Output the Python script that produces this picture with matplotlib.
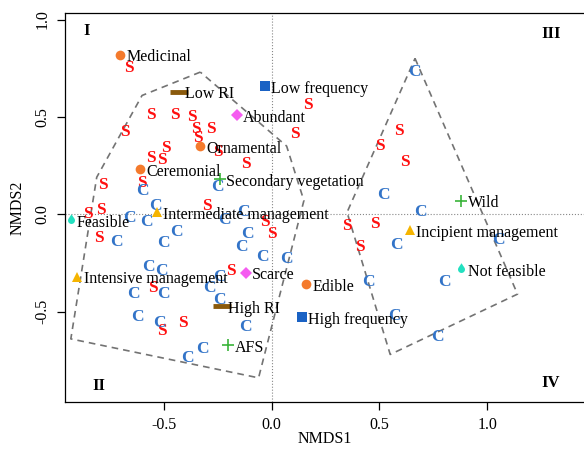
"""NMDS ordination of species uses / management categories (S vs C groups)."""

import matplotlib

matplotlib.use("Agg")

import matplotlib.pyplot as plt
import numpy as np
from matplotlib.path import Path

plt.rcParams["font.family"] = ["Liberation Serif", "DejaVu Serif"]
plt.rcParams["axes.unicode_minus"] = False

# S sites (NMDS1, NMDS2)
s_x = [-0.66, -0.56, -0.45, -0.37, -0.68, -0.35, -0.28, -0.34, -0.49, -0.25,
       -0.56, -0.51, -0.12, -0.60, -0.78, -0.79, -0.85, -0.30, -0.03, 0.00,
       -0.80, -0.19, -0.55, -0.51, -0.41, 0.17, 0.11, 0.59, 0.50, 0.62,
       0.35, 0.48, 0.41]
s_y = [0.75, 0.51, 0.51, 0.50, 0.42, 0.44, 0.44, 0.39, 0.34, 0.32,
       0.29, 0.28, 0.26, 0.16, 0.15, 0.02, 0.00, 0.04, -0.04, -0.10,
       -0.12, -0.29, -0.38, -0.60, -0.56, 0.56, 0.41, 0.43, 0.35, 0.27,
       -0.06, -0.05, -0.17]

# C sites
c_x = [-0.25, -0.60, -0.54, -0.13, -0.66, -0.58, -0.22, -0.72, -0.44, -0.50,
       -0.11, -0.14, -0.04, 0.07, -0.57, -0.51, -0.24, -0.29, -0.64, -0.50,
       -0.24, -0.62, -0.52, -0.12, -0.32, -0.39, 0.66, 0.52, 0.69, 0.58,
       1.05, 0.45, 0.80, 0.57, 0.77]
c_y = [0.14, 0.12, 0.04, 0.01, -0.02, -0.04, -0.03, -0.14, -0.09, -0.15,
       -0.10, -0.17, -0.22, -0.23, -0.27, -0.29, -0.32, -0.38, -0.41, -0.41,
       -0.44, -0.53, -0.56, -0.58, -0.69, -0.74, 0.73, 0.10, 0.01, -0.16,
       -0.13, -0.35, -0.35, -0.52, -0.63]

# fitted variables
var_names = ["Medicinal", "Ornamental", "Ceremonial", "Edible",
             "Low RI", "High RI", "Low frequency", "High frequency",
             "Abundant", "Scarce", "Secondary vegetation", "Wild", "AFS",
             "Intermediate management", "Intensive management", "Incipient management",
             "Feasible", "Not feasible"]
var_x = [-0.70, -0.33, -0.61, 0.16, -0.43, -0.23, -0.03, 0.14, -0.16, -0.12,
         -0.24, 0.88, -0.20, -0.53, -0.90, 0.64, -0.93, 0.88]
var_y = [0.82, 0.35, 0.23, -0.36, 0.63, -0.47, 0.66, -0.53, 0.51, -0.30,
         0.18, 0.07, -0.67, 0.01, -0.32, -0.08, -0.03, -0.28]
var_group = ["use", "use", "use", "use", "ri", "ri", "freq", "freq",
             "abund", "abund", "hab", "hab", "hab", "mgmt", "mgmt", "mgmt",
             "feas", "feas"]

# convex hulls of the two groups
hull1_x = [-0.33, -0.60, -0.81, -0.93, -0.06, 0.15, 0.07]
hull1_y = [0.73, 0.61, 0.19, -0.64, -0.84, 0.07, 0.35]
hull2_x = [0.665, 1.14, 0.55, 0.35]
hull2_y = [0.80, -0.41, -0.72, 0.01]

quadrants = ["I", "III", "II", "IV"]
quad_pos = [(0.042, 0.955), (0.936, 0.948), (0.066, 0.04), (0.936, 0.05)]

# teardrop marker
_a = np.radians(np.linspace(34, -214, 40))
_drop = np.vstack([[0, 1.8], np.column_stack([np.cos(_a), np.sin(_a)]), [0, 1.8]])
DROP = Path(_drop, closed=True)

STYLE = {
    "use": dict(marker="o", color="#f47a2c", ms=7),
    "ri": dict(marker="_", color="#8a5a0c", ms=13, mew=3.5),
    "freq": dict(marker="s", color="#1a62c4", ms=6.5),
    "abund": dict(marker="D", color="#f55cf0", ms=6.5),
    "hab": dict(marker="+", color="#3ab43a", ms=8, mew=1.2),
    "mgmt": dict(marker="^", color="#f5b400", ms=7.5),
    "feas": dict(marker=DROP, color="#22e0c0", ms=9),
}

fig = plt.figure(figsize=(5.84, 4.49), dpi=100)
ax = fig.add_axes([0.1113, 0.1047, 0.8887, 0.8657])

ax.axhline(0, color="#888888", lw=0.8, ls=":", zorder=1)
ax.axvline(0, color="#888888", lw=0.8, ls=":", zorder=1)

for hx, hy in [(hull1_x, hull1_y), (hull2_x, hull2_y)]:
    ax.plot(hx + hx[:1], hy + hy[:1], color="#737373", lw=1.2, ls=(0, (4, 3)), zorder=2)

for x, y in zip(s_x, s_y):
    ax.text(x, y, "S", color="#ff1010", fontsize=12.5, fontweight="bold",
            ha="center", va="center", zorder=3)
for x, y in zip(c_x, c_y):
    ax.text(x, y, "C", color="#3374c8", fontsize=12.5, fontweight="bold",
            ha="center", va="center", zorder=3)

for name, x, y, g in zip(var_names, var_x, var_y, var_group):
    st = STYLE[g]
    ax.plot([x], [y], ls="none", marker=st["marker"], color=st["color"],
            markersize=st["ms"], markeredgewidth=st.get("mew", 0), zorder=4)
    ax.annotate(name, (x, y), xytext=(4.5, -2), textcoords="offset points",
                ha="left", va="center", fontsize=11.5, zorder=5)

for lab, (qx, qy) in zip(quadrants, quad_pos):
    ax.text(qx, qy, lab, transform=ax.transAxes, fontsize=12, fontweight="bold",
            ha="center", va="center")

ax.set_xlim(-0.957, 1.448)
ax.set_ylim(-0.964, 1.032)
ax.set_xticks([-0.5, 0.0, 0.5, 1.0])
ax.set_xticklabels(["-0.5", "0.0", "0.5", "1.0"])
ax.set_yticks([-0.5, 0.0, 0.5, 1.0])
ax.set_yticklabels(["-0.5", "0.0", "0.5", "1.0"], rotation=90, va="center")
ax.tick_params(labelsize=11.5, length=5.5, width=0.9, pad=5)
ax.set_xlabel("NMDS1", fontsize=11.5, labelpad=-1)
ax.set_ylabel("NMDS2", fontsize=11.5, labelpad=6)
ax.spines["right"].set_visible(False)
for sp in ["left", "top", "bottom"]:
    ax.spines[sp].set_linewidth(0.9)

fig.savefig("out.png", dpi=100)
